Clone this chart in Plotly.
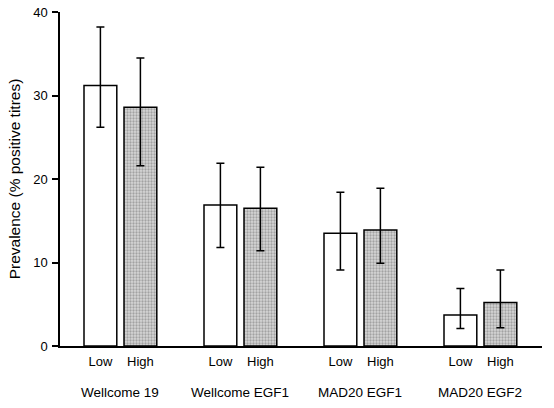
import plotly.graph_objects as go

groups = ["Wellcome 19", "Wellcome EGF1", "MAD20 EGF1", "MAD20 EGF2"]
levels = ["Low", "High"]
low_vals = [31.2, 16.9, 13.5, 3.7]
low_err_hi = [38.2, 21.9, 18.4, 6.9]
low_err_lo = [26.2, 11.8, 9.1, 2.1]
high_vals = [28.6, 16.5, 13.9, 5.2]
high_err_hi = [34.5, 21.4, 18.9, 9.1]
high_err_lo = [21.6, 11.4, 9.9, 2.2]
y_ticks = [0, 10, 20, 30, 40]

FONT = "Arial, Liberation Sans, Helvetica, sans-serif"
GROUP_STEP = 3

xl = [g * GROUP_STEP for g in range(len(groups))]
xh = [g * GROUP_STEP + 1 for g in range(len(groups))]

fig = go.Figure()
fig.add_trace(go.Bar(
    x=xl, y=low_vals, width=0.82,
    marker=dict(color="white", line=dict(color="black", width=1.5)),
    error_y=dict(type="data", symmetric=False,
                 array=[h - v for h, v in zip(low_err_hi, low_vals)],
                 arrayminus=[v - l for l, v in zip(low_err_lo, low_vals)],
                 color="black", thickness=1.5, width=4),
    showlegend=False,
))
fig.add_trace(go.Bar(
    x=xh, y=high_vals, width=0.82,
    marker=dict(color="#bdbdbd", line=dict(color="black", width=1.5),
                pattern=dict(shape=".", fgcolor="#6e6e6e", bgcolor="#d6d6d6",
                             size=3, solidity=0.45)),
    error_y=dict(type="data", symmetric=False,
                 array=[h - v for h, v in zip(high_err_hi, high_vals)],
                 arrayminus=[v - l for l, v in zip(high_err_lo, high_vals)],
                 color="black", thickness=1.5, width=4),
    showlegend=False,
))

tickvals = []
ticktext = []
for a, b in zip(xl, xh):
    tickvals += [a, b]
    ticktext += levels

for g, name in enumerate(groups):
    fig.add_annotation(x=g * GROUP_STEP + 0.5, y=0, xref="x", yref="paper",
                       text=name, showarrow=False, yanchor="top", yshift=-37,
                       font=dict(family=FONT, size=13.5, color="black"))

fig.update_layout(
    width=554, height=408,
    margin=dict(l=60, r=12, t=12, b=62, autoexpand=False),
    plot_bgcolor="white", paper_bgcolor="white",
    font=dict(family=FONT, color="black"),
    barmode="overlay",
    xaxis=dict(range=[-1.01, 11.04], tickvals=tickvals, ticktext=ticktext,
               automargin=False,
               showline=True, linecolor="black", linewidth=1.5,
               showgrid=False, zeroline=False, ticks="",
               tickfont=dict(family=FONT, size=13, color="black"),
               ticklabelstandoff=3),
    yaxis=dict(range=[0, 40], tickvals=y_ticks, automargin=False,
               showline=True, linecolor="black", linewidth=1.5,
               showgrid=False, zeroline=False, ticks="outside", ticklen=6,
               tickwidth=1.5, tickcolor="black",
               tickfont=dict(family=FONT, size=13, color="black"),
               ticklabelstandoff=2,
               title=dict(text="Prevalence (% positive titres)",
                          font=dict(family=FONT, size=15.5, color="black"),
                          standoff=9)),
)

fig.write_html("out.html", config={"displayModeBar": False},
               post_script="document.body.style.margin='0px';")
